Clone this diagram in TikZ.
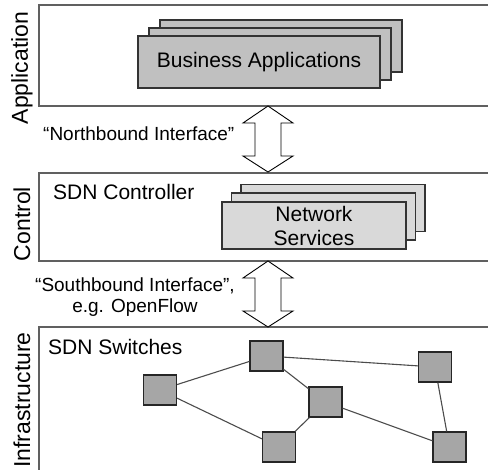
\documentclass[tikz,border=0pt]{standalone}
\usepackage{fontspec}
\setmainfont{Liberation Sans}
\definecolor{appgray}{HTML}{C0C0C0}
\definecolor{svcgray}{HTML}{D9D9D9}
\definecolor{swgray}{HTML}{A6A6A6}
\definecolor{layerline}{HTML}{606060}
\begin{document}
\begin{tikzpicture}[x=1pt,y=-1pt,
  layer/.style={draw=layerline,line width=1.4pt},
  appcard/.style={draw=black!80,line width=1.1pt,fill=appgray,minimum width=242pt,minimum height=52pt,inner sep=0pt},
  svccard/.style={draw=black!80,line width=1.1pt,fill=svcgray,minimum width=184pt,minimum height=47pt,inner sep=0pt},
  sw/.style={draw=black!85,line width=1.1pt,fill=swgray,minimum width=33pt,minimum height=30pt,inner sep=0pt},
  link/.style={draw=black!70,line width=1.1pt},
  dblarrow/.style={draw=black,line width=0.9pt,fill=white,line join=miter},
  sidelabel/.style={rotate=90,font=\fontsize{23}{26}\selectfont,inner sep=0pt},
  lbl/.style={font=\fontsize{21}{24}\selectfont,inner sep=0pt},
  ilbl/.style={font=\fontsize{19}{21}\selectfont,inner sep=0pt,align=center}]
\useasboundingbox (0,0) rectangle (488,470);
\clip (0,0) rectangle (488,470);
% layers
\draw[layer] (39,5) rectangle (520,106);
\draw[layer] (39,173) rectangle (520,261);
\draw[layer] (39,327) rectangle (520,500);
% side labels
\node[sidelabel] (lapp) at (22,68) {Application};
\node[sidelabel] (lctl) at (22,224) {Control};
\node[sidelabel] (linf) at (22,400) {Infrastructure};
% business applications stack
\node[appcard] (ba3) at (281,46) {};
\node[appcard] (ba2) at (270,54) {};
\node[appcard,font=\fontsize{21}{24}\selectfont] (ba1) at (259,62) {Business Applications};
% network services stack
\node[svccard] (ns3) at (333,208) {};
\node[svccard] (ns2) at (323.5,216.5) {};
\node[svccard,font=\fontsize{21}{24}\selectfont,align=center] (ns1) at (314,225.5) {Network\\Services};
\node[lbl,anchor=west] (ctl) at (53,192) {SDN Controller};
\node[lbl,anchor=west] (swl) at (48,347) {SDN Switches};
% interface arrows
\draw[dblarrow] (268,106) -- (293,123) -- (281,123) -- (281,156) -- (293,156) -- (268,172)
  -- (243,156) -- (255,156) -- (255,123) -- (243,123) -- cycle;
\draw[dblarrow] (268,261) -- (293,278) -- (281,278) -- (281,311) -- (293,311) -- (268,327)
  -- (243,311) -- (255,311) -- (255,278) -- (243,278) -- cycle;
\node[ilbl,anchor=west] (nbi) at (43,134) {“Northbound Interface”};
\node[ilbl] (sbi) at (135,297) {“Southbound Interface”,\\e.g. OpenFlow};
% switches
\node[sw] (s1) at (266.5,356) {};
\node[sw] (s2) at (160,390) {};
\node[sw] (s3) at (325.5,402) {};
\node[sw] (s4) at (435,367) {};
\node[sw] (s5) at (279,447) {};
\node[sw] (s6) at (449.5,447) {};
\draw[link] (s1) -- (s2);
\draw[link] (s1) -- (s3);
\draw[link] (s1) -- (s4);
\draw[link] (s2) -- (s5);
\draw[link] (s5) -- (s3);
\draw[link] (s3) -- (s6);
\draw[link] (s4) -- (s6);
\end{tikzpicture}
\end{document}
